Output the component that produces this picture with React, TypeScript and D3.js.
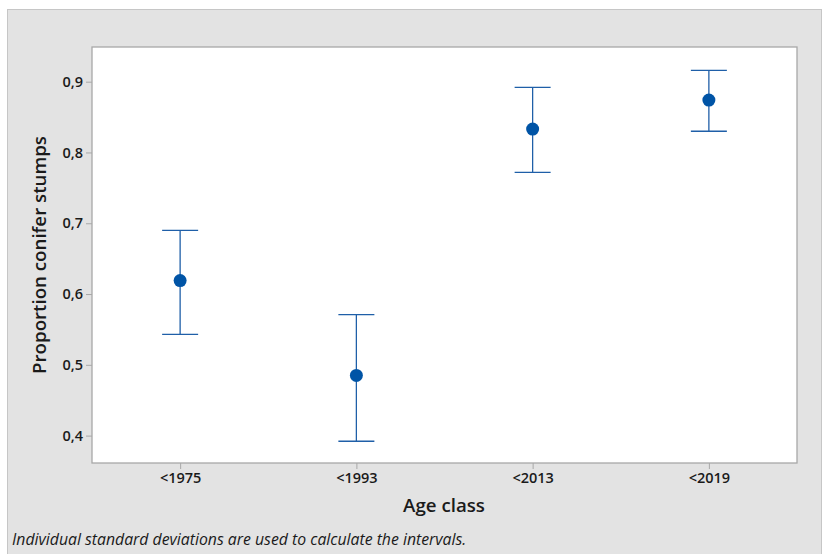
import React, { useEffect, useRef } from 'react';
import * as d3 from 'd3';

const ageClasses = ['<1975', '<1993', '<2013', '<2019'];
const means = [0.619, 0.485, 0.833, 0.874];
const upper = [0.690, 0.571, 0.892, 0.916];
const lower = [0.543, 0.392, 0.772, 0.830];
const yTicks = [0.4, 0.5, 0.6, 0.7, 0.8, 0.9];

const font = '"Open Sans", "Noto Sans", sans-serif';

const App: React.FC = () => {
  const svgRef = useRef<SVGSVGElement>(null);

  useEffect(() => {
    if (!svgRef.current) return;
    const width = 824;
    const height = 554;
    const margin = { top: 47, right: 27, bottom: 91, left: 92 };

    const svg = d3.select(svgRef.current);
    svg.selectAll('*').remove();

    svg.append('rect').attr('width', width).attr('height', height).style('fill', 'white');
    svg.append('rect')
      .attr('x', 7.5).attr('y', 9.5)
      .attr('width', 814).attr('height', 560)
      .style('fill', '#e3e3e3')
      .style('stroke', '#c6c6c6');

    const x = d3.scalePoint<string>()
      .domain(ageClasses)
      .range([margin.left, width - margin.right])
      .padding(0.5);
    const y = d3.scaleLinear()
      .domain([0.362, 0.949])
      .range([height - margin.bottom - 0.5, margin.top]);

    svg.append('rect')
      .attr('x', margin.left).attr('y', margin.top)
      .attr('width', width - margin.left - margin.right)
      .attr('height', height - margin.top - margin.bottom)
      .style('fill', 'white')
      .style('stroke', '#a8a8a8')
      .style('stroke-width', 1.3);

    const fmt = (d: number) => d3.format('.1f')(d).replace('.', ',');

    const yAxis = svg.append('g')
      .attr('transform', `translate(${margin.left},0)`)
      .call(d3.axisLeft(y).tickValues(yTicks).tickFormat(d => fmt(d as number)).tickSize(6).tickPadding(3));
    yAxis.select('.domain').remove();
    yAxis.selectAll('line').style('stroke', '#a8a8a8');
    yAxis.selectAll('text')
      .style('font-family', font).style('font-size', '14.5px').style('font-weight', 600)
      .style('fill', '#1a1a1a');

    const xAxis = svg.append('g')
      .attr('transform', `translate(0,${height - margin.bottom})`)
      .call(d3.axisBottom(x).tickSize(6).tickPadding(4));
    xAxis.select('.domain').remove();
    xAxis.selectAll('line').style('stroke', '#a8a8a8');
    xAxis.selectAll('text')
      .style('font-family', font).style('font-size', '14.5px').style('font-weight', 600)
      .style('fill', '#1a1a1a');

    svg.append('text')
      .attr('transform', `translate(46,${(margin.top + height - margin.bottom) / 2}) rotate(-90)`)
      .attr('text-anchor', 'middle')
      .style('font-family', font).style('font-size', '18.7px').style('font-weight', 600)
      .style('fill', '#1a1a1a')
      .text('Proportion conifer stumps');

    svg.append('text')
      .attr('x', 444).attr('y', 512)
      .attr('text-anchor', 'middle')
      .style('font-family', font).style('font-size', '18.7px').style('font-weight', 600)
      .style('fill', '#1a1a1a')
      .text('Age class');

    svg.append('text')
      .attr('x', 12).attr('y', 545)
      .style('font-family', font).style('font-size', '15.8px').style('font-style', 'italic')
      .style('fill', '#1a1a1a')
      .text('Individual standard deviations are used to calculate the intervals.');

    const g = svg.append('g');
    const capHalf = 18;
    ageClasses.forEach((c, i) => {
      const cx = x(c)!;
      g.append('line')
        .attr('x1', cx).attr('x2', cx)
        .attr('y1', y(upper[i])).attr('y2', y(lower[i]))
        .style('stroke', '#1f5fa8').style('stroke-width', 1.3);
      [upper[i], lower[i]].forEach(v => {
        g.append('line')
          .attr('x1', cx - capHalf).attr('x2', cx + capHalf)
          .attr('y1', y(v)).attr('y2', y(v))
          .style('stroke', '#1f5fa8').style('stroke-width', 1.3);
      });
      g.append('circle')
        .attr('cx', cx).attr('cy', y(means[i]))
        .attr('r', 6.5)
        .style('fill', '#0054a6');
    });
  }, []);

  return (
    <div style={{ position: 'absolute', left: 0, top: 0 }}>
      <svg ref={svgRef} width={824} height={554} style={{ display: 'block' }}></svg>
    </div>
  );
};

export default App;
